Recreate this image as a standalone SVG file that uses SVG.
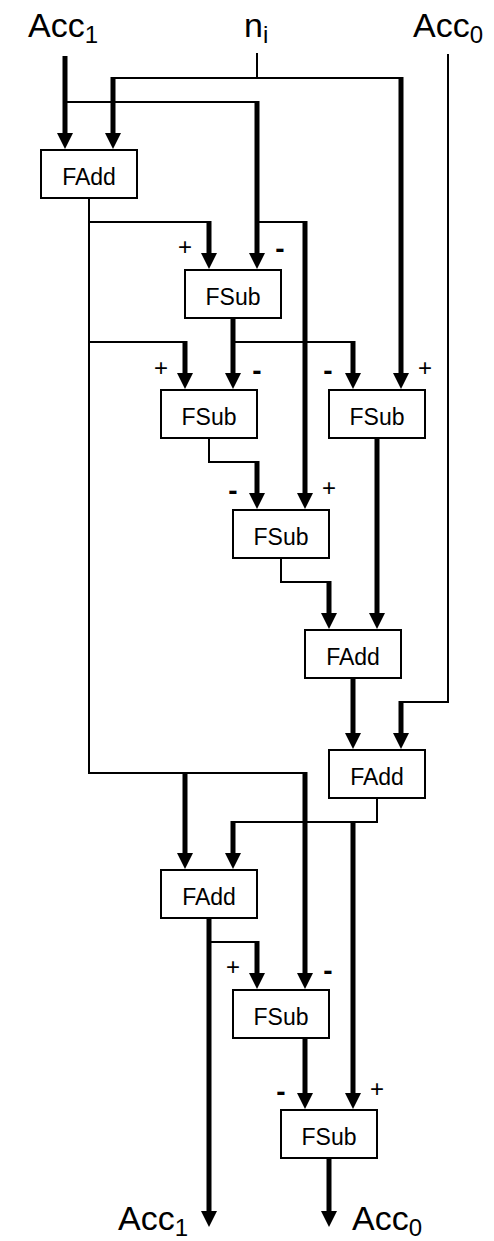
<svg xmlns="http://www.w3.org/2000/svg" width="494" height="1241" viewBox="0 0 494 1241">
<defs>
<style>
.box{fill:#fff;stroke:#000;stroke-width:2}
.bt{font-family:"Liberation Sans",Arial,sans-serif;font-size:23px;text-anchor:middle;fill:#000}
.io{font-family:"Liberation Sans",Arial,sans-serif;font-size:34px;fill:#000}
.sub{font-size:24px}
.sg{font-family:"Liberation Sans",Arial,sans-serif;font-size:24px;text-anchor:middle;fill:#000}
.mn{font-size:28px;font-weight:bold}
.thin{fill:none;stroke:#000;stroke-width:2}
.thick{fill:none;stroke:#000;stroke-width:5;marker-end:url(#ah)}
</style>
<marker id="ah" markerUnits="userSpaceOnUse" markerWidth="16" markerHeight="16" refX="2" refY="8" orient="auto">
<path d="M0,0 L16,8 L0,16 z" fill="#000"/>
</marker>
</defs>
<rect width="494" height="1241" fill="#fff"/>

<g id="labels">
<text class="io" x="28" y="37">Acc<tspan class="sub" dy="6">1</tspan></text>
<text class="io" x="244" y="37">n<tspan class="sub" dy="6">i</tspan></text>
<text class="io" x="413" y="37">Acc<tspan class="sub" dy="6">0</tspan></text>
<text class="io" x="118" y="1230">Acc<tspan class="sub" dy="6">1</tspan></text>
<text class="io" x="352" y="1230">Acc<tspan class="sub" dy="6">0</tspan></text>
</g>

<g id="connectors">
<!-- Acc1 -->
<path class="thick" d="M65,56 V135"/>
<path class="thin" d="M65,102 H257"/>
<path class="thick" d="M257,101 V255"/>
<path class="thin" d="M257,222 H305"/>
<path class="thick" d="M305,221 V495"/>
<!-- n_i -->
<path class="thin" d="M257,53 V78"/>
<path class="thin" d="M113,78 H401"/>
<path class="thick" d="M113,77 V135"/>
<path class="thick" d="M401,77 V375"/>
<!-- Acc0 -->
<path class="thin" d="M448,54 V702 H401"/>
<path class="thick" d="M401,701 V735"/>
<!-- FAdd1 out -->
<path class="thin" d="M89,198 V773 H305"/>
<path class="thin" d="M89,222 H209"/>
<path class="thick" d="M209,221 V255"/>
<path class="thin" d="M89,342 H185"/>
<path class="thick" d="M185,341 V375"/>
<path class="thick" d="M185,772 V855"/>
<path class="thick" d="M305,772 V975"/>
<!-- FSub1 out -->
<path class="thick" d="M233,318 V375"/>
<path class="thin" d="M233,342 H353"/>
<path class="thick" d="M353,341 V375"/>
<!-- FSub2 out -->
<path class="thin" d="M209,438 V462 H257"/>
<path class="thick" d="M257,461 V495"/>
<!-- FSub3 out -->
<path class="thin" d="M281,558 V582 H329"/>
<path class="thick" d="M329,581 V615"/>
<!-- FSubR out -->
<path class="thick" d="M377,438 V615"/>
<!-- FAdd2 out -->
<path class="thick" d="M353,678 V735"/>
<!-- FAdd3 out -->
<path class="thin" d="M377,798 V822 H233"/>
<path class="thick" d="M233,821 V855"/>
<path class="thick" d="M353,821 V1095"/>
<!-- FAdd4 out -->
<path class="thick" d="M209,918 V1213"/>
<path class="thin" d="M209,942 H257"/>
<path class="thick" d="M257,941 V975"/>
<!-- FSub4 out -->
<path class="thick" d="M305,1038 V1095"/>
<!-- FSub5 out -->
<path class="thick" d="M329,1158 V1213"/>
</g>

<g id="signs">
<text class="sg" x="185" y="255">+</text>
<text class="sg mn" x="280" y="258">-</text>
<text class="sg" x="161" y="376">+</text>
<text class="sg mn" x="257" y="380">-</text>
<text class="sg mn" x="328" y="380">-</text>
<text class="sg" x="425" y="376">+</text>
<text class="sg mn" x="233" y="500">-</text>
<text class="sg" x="329" y="496">+</text>
<text class="sg" x="233" y="975">+</text>
<text class="sg mn" x="328" y="980">-</text>
<text class="sg mn" x="281" y="1101">-</text>
<text class="sg" x="377" y="1097">+</text>
</g>

<g id="fadd1"><rect class="box" x="41" y="150" width="96" height="48"/><text class="bt" x="89" y="185">FAdd</text></g>
<g id="fsub1"><rect class="box" x="185" y="270" width="96" height="48"/><text class="bt" x="233" y="305">FSub</text></g>
<g id="fsub2"><rect class="box" x="161" y="390" width="96" height="48"/><text class="bt" x="209" y="425">FSub</text></g>
<g id="fsubr"><rect class="box" x="329" y="390" width="96" height="48"/><text class="bt" x="377" y="425">FSub</text></g>
<g id="fsub3"><rect class="box" x="233" y="510" width="96" height="48"/><text class="bt" x="281" y="545">FSub</text></g>
<g id="fadd2"><rect class="box" x="305" y="630" width="96" height="48"/><text class="bt" x="353" y="665">FAdd</text></g>
<g id="fadd3"><rect class="box" x="329" y="750" width="96" height="48"/><text class="bt" x="377" y="785">FAdd</text></g>
<g id="fadd4"><rect class="box" x="161" y="870" width="96" height="48"/><text class="bt" x="209" y="905">FAdd</text></g>
<g id="fsub4"><rect class="box" x="233" y="990" width="96" height="48"/><text class="bt" x="281" y="1025">FSub</text></g>
<g id="fsub5"><rect class="box" x="281" y="1110" width="96" height="48"/><text class="bt" x="329" y="1145">FSub</text></g>
</svg>
